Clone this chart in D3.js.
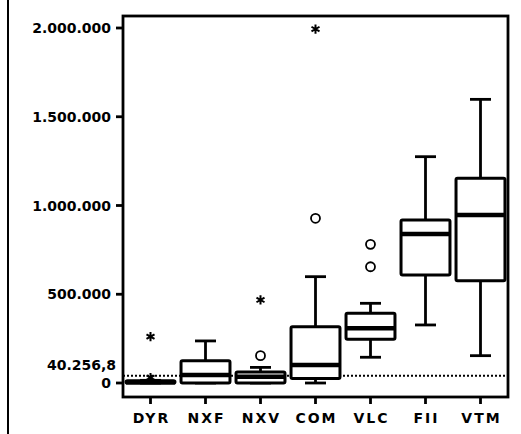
<!DOCTYPE html>
<html>
<head>
<meta charset="utf-8">
<script src="https://cdn.jsdelivr.net/npm/d3@7"></script>
<style>
  html, body { margin: 0; padding: 0; background: #fff; }
  svg { display: block; font-family: "DejaVu Sans", "Liberation Sans", Arial, sans-serif; font-weight: bold; }
</style>
</head>
<body>
<div id="chart"></div>
<script>
//~~~~~~~~~~~~~~~~~~~~~~~~~~~~~~~~~~~~
// Data
//~~~~~~~~~~~~~~~~~~~~~~~~~~~~~~~~~~~~
const categories = ["DYR", "NXF", "NXV", "COM", "VLC", "FII", "VTM"];
const whiskerLow  = [0, 0, 0, 0, 145000, 327000, 154000];
const q1          = [0, 0, 0, 26000, 246000, 608000, 576000];
const medians     = [4000, 45000, 35000, 101000, 308000, 839000, 946000];
const q3          = [12000, 126000, 62000, 317000, 393000, 918000, 1153000];
const whiskerHigh = [15000, 237000, 88000, 599000, 449000, 1275000, 1598000];

// o = outlier, * = extreme
const outlierCats   = ["NXV", "COM", "VLC", "VLC"];
const outlierValues = [154000, 928000, 781000, 655000];
const extremeCats   = ["DYR", "DYR", "NXV", "COM"];
const extremeValues = [261000, 30000, 468000, 1994000];

const yTicks = [0, 500000, 1000000, 1500000, 2000000];
const refValue = 40256.8;

//~~~~~~~~~~~~~~~~~~~~~~~~~~~~~~~~~~~~
// Chart
//~~~~~~~~~~~~~~~~~~~~~~~~~~~~~~~~~~~~
const width = 521, height = 434;
const plotLeft = 123, plotRight = 508, plotTop = 16, plotBottom = 397;

const locale = d3.formatLocale({decimal: ",", thousands: ".", grouping: [3], currency: ["", ""]});
const fmt = locale.format(",d");
const fmtRef = locale.format(",.1f");

const svg = d3.select("#chart").append("svg")
    .attr("width", width)
    .attr("height", height);

const x = d3.scaleBand().domain(categories).range([plotLeft, plotRight]).padding(0);
// 0 sits at y=383, 2.000.000 at y=28
const y = d3.scaleLinear().domain([-78873, 2067606]).range([plotBottom, plotTop]);

const cx = c => x(c) + x.bandwidth() / 2;
const boxW = x.bandwidth() * 0.89;
const capW = 21;

// page edge line on the left
svg.append("line")
    .attr("x1", 8).attr("x2", 8).attr("y1", 0).attr("y2", height)
    .attr("stroke", "#000").attr("stroke-width", 2);

// reference line
svg.append("line")
    .attr("x1", plotLeft).attr("x2", plotRight)
    .attr("y1", y(refValue)).attr("y2", y(refValue))
    .attr("stroke", "#000").attr("stroke-width", 2)
    .attr("stroke-dasharray", "2,2");

// boxes
const boxes = categories.map((c, i) => ({
    cat: c, lo: whiskerLow[i], q1: q1[i], med: medians[i], q3: q3[i], hi: whiskerHigh[i]
}));

const g = svg.append("g").selectAll("g")
    .data(boxes)
    .join("g")
    .attr("transform", d => `translate(${cx(d.cat)},0)`);

g.append("line") // whisker
    .attr("x1", 0).attr("x2", 0)
    .attr("y1", d => y(d.lo)).attr("y2", d => y(d.hi))
    .attr("stroke", "#000").attr("stroke-width", 2.8);

g.selectAll(".cap")
    .data(d => [d.lo, d.hi])
    .join("line")
    .attr("class", "cap")
    .attr("x1", -capW / 2).attr("x2", capW / 2)
    .attr("y1", v => y(v)).attr("y2", v => y(v))
    .attr("stroke", "#000").attr("stroke-width", 2.8);

g.append("rect")
    .attr("x", -boxW / 2)
    .attr("width", boxW)
    .attr("y", d => y(d.q3))
    .attr("height", d => Math.max(1, y(d.q1) - y(d.q3)))
    .attr("rx", 1.5)
    .attr("fill", "#fff")
    .attr("stroke", "#000").attr("stroke-width", 3);

g.append("line") // median
    .attr("x1", -boxW / 2).attr("x2", boxW / 2)
    .attr("y1", d => y(d.med)).attr("y2", d => y(d.med))
    .attr("stroke", "#000").attr("stroke-width", 4.5);

// outliers
svg.append("g").selectAll("circle")
    .data(outlierCats.map((c, i) => ({cat: c, v: outlierValues[i]})))
    .join("circle")
    .attr("cx", d => cx(d.cat))
    .attr("cy", d => y(d.v))
    .attr("r", 4.5)
    .attr("fill", "none")
    .attr("stroke", "#000").attr("stroke-width", 1.8);

// extremes
const star = d3.symbol(d3.symbolAsterisk, 60);
svg.append("g").selectAll("path")
    .data(extremeCats.map((c, i) => ({cat: c, v: extremeValues[i]})))
    .join("path")
    .attr("transform", d => `translate(${cx(d.cat)},${y(d.v)})`)
    .attr("d", star)
    .attr("fill", "none")
    .attr("stroke", "#000").attr("stroke-width", 2);

// frame
svg.append("rect")
    .attr("x", plotLeft).attr("y", plotTop)
    .attr("width", plotRight - plotLeft).attr("height", plotBottom - plotTop)
    .attr("fill", "none")
    .attr("stroke", "#000").attr("stroke-width", 2.8);

// y axis ticks + labels
const yAxis = svg.append("g");
yAxis.selectAll("line")
    .data(yTicks)
    .join("line")
    .attr("x1", plotLeft - 7).attr("x2", plotLeft)
    .attr("y1", d => y(d)).attr("y2", d => y(d))
    .attr("stroke", "#000").attr("stroke-width", 2.8);

yAxis.selectAll("text")
    .data(yTicks)
    .join("text")
    .attr("x", 111)
    .attr("y", d => y(d))
    .attr("dy", "0.36em")
    .attr("text-anchor", "end")
    .attr("font-size", 14)
    .text(d => fmt(d));

yAxis.append("text")
    .attr("x", 116)
    .attr("y", y(refValue) - 6)
    .attr("text-anchor", "end")
    .attr("font-size", 14)
    .text(fmtRef(refValue));

// x axis ticks + labels
const xAxis = svg.append("g");
xAxis.selectAll("line")
    .data(categories)
    .join("line")
    .attr("x1", d => cx(d)).attr("x2", d => cx(d))
    .attr("y1", plotBottom).attr("y2", plotBottom + 7)
    .attr("stroke", "#000").attr("stroke-width", 2.8);

xAxis.selectAll("text")
    .data(categories)
    .join("text")
    .attr("x", d => cx(d) + 1)
    .attr("y", 423)
    .attr("text-anchor", "middle")
    .attr("font-size", 14)
    .attr("letter-spacing", 2)
    .text(d => d);
</script>
</body>
</html>
